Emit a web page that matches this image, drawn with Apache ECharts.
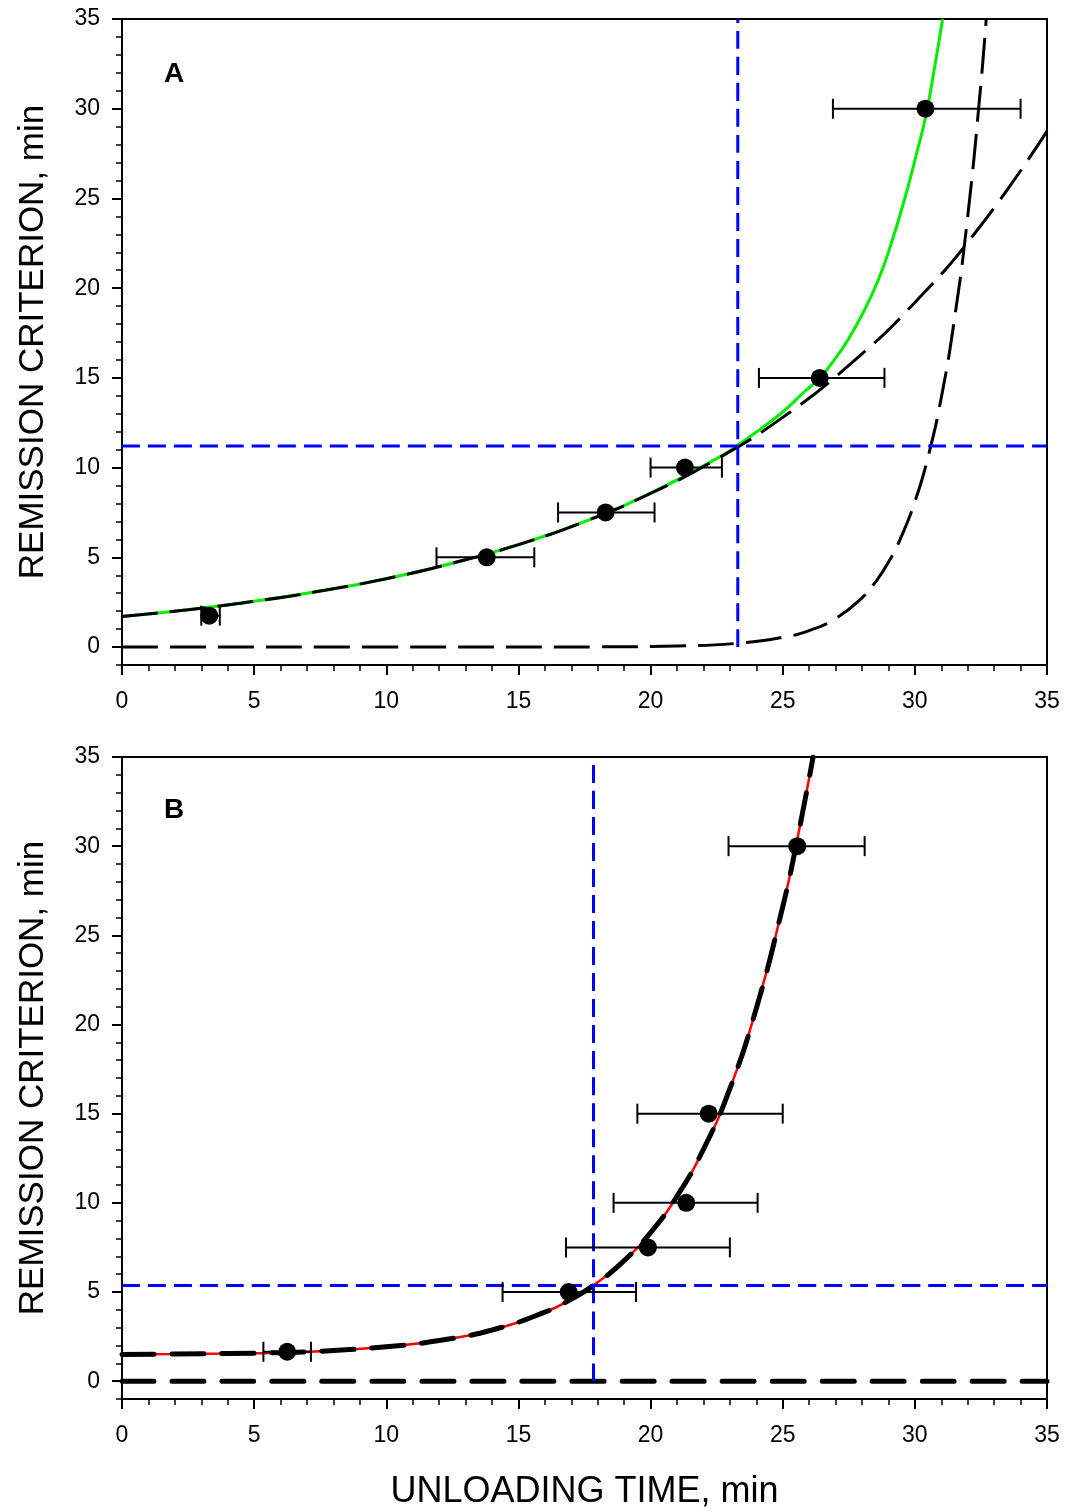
<!DOCTYPE html>
<html>
<head>
<meta charset="utf-8">
<script src="https://cdn.jsdelivr.net/npm/echarts@6/dist/echarts.min.js"></script>
<style>
  html, body { margin: 0; padding: 0; background: #fff; }
  #chart { width: 1078px; height: 1511px; }
</style>
</head>
<body>
<div id="chart"></div>
<script>
// tick labels
var xTickValues = [0, 5, 10, 15, 20, 25, 30, 35];
var yTickValues = [0, 5, 10, 15, 20, 25, 30, 35];
var yMinorValues = [-1, 0, 1, 2, 3, 4, 5, 6, 7, 8, 9, 10, 11, 12, 13, 14, 15, 16, 17, 18,
  19, 20, 21, 22, 23, 24, 25, 26, 27, 28, 29, 30, 31, 32, 33, 34, 35];

// panel A: observed points with horizontal error bars
var pointsAX = [3.3, 13.8, 18.3, 21.3, 26.4, 30.4];
var pointsAY = [1.75, 5, 7.5, 10, 15, 30];
var errLoA = [3.0, 11.9, 16.5, 20.0, 24.1, 26.9];
var errHiA = [3.7, 15.6, 20.15, 22.7, 28.85, 34.0];

// panel A: green fitted curve
var greenAX = [0, 2.5, 5, 7.5, 10, 12.5, 15, 17.5, 20, 22.5, 23.3, 24.2, 25, 25.8, 26.4, 27, 27.5, 28.1, 28.6, 29, 29.6, 30.1, 30.4, 30.7, 31.05];
var greenAY = [1.7, 2.08, 2.55, 3.12, 3.81, 4.67, 5.71, 6.99, 8.58, 10.5, 11.25, 12.2, 13.1, 14.2, 15.0, 16.1, 17.2, 18.8, 20.4, 22.0, 24.9, 27.7, 29.5, 31.9, 35];

// panel A: black dashed component curves
var slowAX = [0, 2.5, 5, 7.5, 10, 12.5, 15, 17.5, 20, 22.5, 25, 27.5, 30, 32.5, 35];
var slowAY = [1.7, 2.08, 2.55, 3.12, 3.81, 4.67, 5.71, 6.99, 8.56, 10.47, 12.8, 15.7, 19.2, 23.5, 28.75];
var fastAX = [0, 10, 18, 21, 23.3, 25, 26, 27, 28, 28.5, 29, 29.5, 30, 30.5, 31, 31.5, 32, 32.5, 32.7];
var fastAY = [0, 0, 0.01, 0.06, 0.21, 0.54, 0.92, 1.59, 2.74, 3.6, 4.72, 6.2, 8.1, 10.6, 13.9, 18.3, 24.0, 31.4, 35];

// panel A: blue marker lines
var markA = [23.3, 11.2];

// panel B: observed points
var pointsBX = [6.25, 16.9, 19.9, 21.35, 22.2, 25.55];
var pointsBY = [1.65, 5, 7.5, 10, 15, 30];
var errLoB = [5.35, 14.4, 16.8, 18.6, 19.5, 22.95];
var errHiB = [7.15, 19.45, 23.0, 24.05, 25.0, 28.1];

// panel B: fitted curve and zero component
var curveBX = [0, 2, 4, 6, 8, 10, 12, 14, 16, 17, 18, 19, 20, 21, 22, 23, 24, 25, 25.5, 26.15];
var curveBY = [1.5, 1.52, 1.55, 1.6, 1.72, 1.93, 2.28, 2.87, 3.87, 4.6, 5.54, 6.76, 8.33, 10.37, 13.0, 16.4, 20.9, 26.6, 30.0, 35];
var zeroBX = [0, 35];
var zeroBY = [0, 0];

// panel B: blue marker lines
var markB = [17.84, 5.36];

var FONT = "'Liberation Sans', Arial, sans-serif";

function zip(xs, ys) {
  return xs.map(function (x, i) { return [x, ys[i]]; });
}

function xAxisFor(gi, withName) {
  return {
    type: 'value', gridIndex: gi, min: 0, max: 35, interval: 5,
    axisLine: { onZero: false, lineStyle: { color: '#000', width: 2 } },
    axisTick: { length: 10, lineStyle: { color: '#000', width: 2 } },
    minorTick: { show: true, splitNumber: 5, length: 6, lineStyle: { color: '#000', width: 1.5 } },
    axisLabel: { color: '#000', fontSize: 23, fontFamily: FONT, margin: 25,
      customValues: xTickValues },
    splitLine: { show: false },
    name: withName ? 'UNLOADING TIME, min' : '',
    nameLocation: 'middle', nameGap: 75,
    nameTextStyle: { color: '#000', fontSize: 36, fontFamily: FONT }
  };
}

function yAxesFor(gi) {
  return [{
    type: 'value', gridIndex: gi, min: -1, max: 35,
    axisLine: { onZero: false, lineStyle: { color: '#000', width: 2 } },
    axisTick: { length: 10, customValues: yTickValues, lineStyle: { color: '#000', width: 2 } },
    axisLabel: { color: '#000', fontSize: 23, fontFamily: FONT, margin: 22, customValues: yTickValues },
    splitLine: { show: false },
    name: 'REMISSION CRITERION, min', nameLocation: 'middle', nameGap: 71,
    nameTextStyle: { color: '#000', fontSize: 35, fontFamily: FONT }
  }, {
    type: 'value', gridIndex: gi, min: -1, max: 35, position: 'left', offset: 0,
    axisLine: { show: false, onZero: false },
    axisTick: { length: 6, customValues: yMinorValues, lineStyle: { color: '#000', width: 1.5 } },
    axisLabel: { show: false },
    splitLine: { show: false }
  }];
}

function lineSeries(xi, yi, data, color, width, dash, z, cap) {
  return {
    type: 'line', xAxisIndex: xi, yAxisIndex: yi, data: data,
    smooth: 0.5, showSymbol: false, symbol: 'none', z: z,
    silent: true, animation: false,
    lineStyle: { color: color, width: width, type: dash || 'solid', cap: cap || 'butt' }
  };
}

function errorSeries(xi, yi, lo, hi, ys) {
  return {
    type: 'custom', xAxisIndex: xi, yAxisIndex: yi, z: 6, silent: true, animation: false,
    data: lo.map(function (l, i) { return [l, hi[i], ys[i]]; }),
    renderItem: function (params, api) {
      var a = api.coord([api.value(0), api.value(2)]);
      var b = api.coord([api.value(1), api.value(2)]);
      var st = { stroke: '#000', lineWidth: 2 };
      return {
        type: 'group', children: [
          { type: 'line', shape: { x1: a[0], y1: a[1], x2: b[0], y2: b[1] }, style: st },
          { type: 'line', shape: { x1: a[0], y1: a[1] - 10, x2: a[0], y2: a[1] + 10 }, style: st },
          { type: 'line', shape: { x1: b[0], y1: b[1] - 10, x2: b[0], y2: b[1] + 10 }, style: st }
        ]
      };
    }
  };
}

function scatterSeries(xi, yi, xs, ys) {
  return {
    type: 'scatter', xAxisIndex: xi, yAxisIndex: yi, data: zip(xs, ys),
    symbolSize: 18, itemStyle: { color: '#000', opacity: 1 }, z: 7, silent: true, animation: false
  };
}

var blueDash = [18, 8];

var option = {
  animation: false,
  backgroundColor: '#fff',
  grid: [
    { left: 122, top: 19, width: 925, height: 646, show: true, borderColor: '#000', borderWidth: 2 },
    { left: 122, top: 757, width: 925, height: 645, show: true, borderColor: '#000', borderWidth: 2 }
  ],
  xAxis: [xAxisFor(0, false), xAxisFor(1, true)],
  yAxis: yAxesFor(0).concat(yAxesFor(1)),
  graphic: [
    { type: 'text', left: 164, top: 60, style: { text: 'A', font: 'bold 28px ' + FONT, fill: '#000' } },
    { type: 'text', left: 164, top: 796, style: { text: 'B', font: 'bold 28px ' + FONT, fill: '#000' } }
  ],
  series: [
    // panel A
    lineSeries(0, 0, zip(greenAX, greenAY), '#00ee00', 3, 'solid', 2),
    lineSeries(0, 0, zip(slowAX, slowAY), '#000', 3, [36, 12], 3),
    lineSeries(0, 0, zip(fastAX, fastAY), '#000', 3, [36, 12], 3),
    lineSeries(0, 0, [[markA[0], 0], [markA[0], 35]], '#0000ff', 3, blueDash, 4),
    lineSeries(0, 0, [[0, markA[1]], [35, markA[1]]], '#0000ff', 3, blueDash, 4),
    errorSeries(0, 0, errLoA, errHiA, pointsAY),
    scatterSeries(0, 0, pointsAX, pointsAY),
    // panel B
    lineSeries(1, 2, zip(curveBX, curveBY), '#ff0000', 2.5, 'solid', 2),
    lineSeries(1, 2, zip(curveBX, curveBY), '#000', 5, [32, 18], 3, 'round'),
    lineSeries(1, 2, zip(zeroBX, zeroBY), '#000', 5, [32, 18], 3, 'round'),
    lineSeries(1, 2, [[markB[0], 0], [markB[0], 35]], '#0000ff', 3, blueDash, 4),
    lineSeries(1, 2, [[0, markB[1]], [35, markB[1]]], '#0000ff', 3, blueDash, 4),
    errorSeries(1, 2, errLoB, errHiB, pointsBY),
    scatterSeries(1, 2, pointsBX, pointsBY)
  ]
};

var chart = echarts.init(document.getElementById('chart'), null, { renderer: 'canvas' });
chart.setOption(option);
</script>
</body>
</html>
